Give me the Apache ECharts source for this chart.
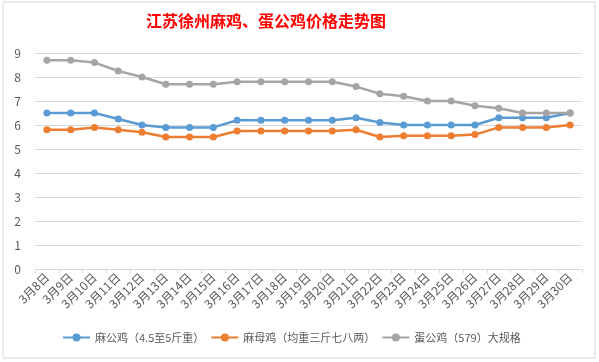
<!DOCTYPE html>
<html><head><meta charset="utf-8">
<script src="https://cdn.jsdelivr.net/npm/echarts@6/dist/echarts.min.js"></script>
<style>html,body{margin:0;padding:0;background:#fff}#c{width:599px;height:362px}</style>
</head><body><div id="c"></div>
<script>
const categories = ["3月8日","3月9日","3月10日","3月11日","3月12日","3月13日","3月14日","3月15日","3月16日","3月17日","3月18日","3月19日","3月20日","3月21日","3月22日","3月23日","3月24日","3月25日","3月26日","3月27日","3月28日","3月29日","3月30日"];
const seriesNames = ["麻公鸡（4.5至5斤重）","麻母鸡（均重三斤七八两）","蛋公鸡（579）大规格"];
const maGongJi = [6.5,6.5,6.5,6.25,6.0,5.9,5.9,5.9,6.2,6.2,6.2,6.2,6.2,6.3,6.1,6.0,6.0,6.0,6.0,6.3,6.3,6.3,6.5];
const maMuJi = [5.8,5.8,5.9,5.8,5.7,5.5,5.5,5.5,5.75,5.75,5.75,5.75,5.75,5.8,5.5,5.55,5.55,5.55,5.6,5.9,5.9,5.9,6.0];
const danGongJi = [8.7,8.7,8.6,8.25,8.0,7.7,7.7,7.7,7.8,7.8,7.8,7.8,7.8,7.6,7.3,7.2,7.0,7.0,6.8,6.7,6.5,6.5,6.5];
const yTicks = [0,1,2,3,4,5,6,7,8,9];
const title = "江苏徐州麻鸡、蛋公鸡价格走势图";

const colors = ["#5B9BD5","#ED7D31","#A5A5A5"];
const font = "'Noto Sans CJK SC', sans-serif";
const chart = echarts.init(document.getElementById('c'));
const mk = (name, data, i) => ({
  name, type:'line', data, symbol:'circle', symbolSize:7,
  lineStyle:{width:2.5,color:colors[i]}, itemStyle:{color:colors[i]}, z: 3+i
});
chart.setOption({
  animation:false,
  graphic:[{type:'rect',shape:{x:3,y:2,width:592,height:356},style:{fill:'none',stroke:'#D9D9D9',lineWidth:1},silent:true}],
  title:{text:title,left:261,textAlign:'center',top:8,textStyle:{color:'#FF0000',fontSize:16,fontWeight:'bold',fontFamily:font}},
  legend:{bottom:14,left:57,itemGap:6,itemWidth:27,itemHeight:10,
    textStyle:{color:'#595959',fontSize:11,fontFamily:font},
    data:seriesNames},
  grid:{left:35,right:17,top:53,bottom:93},
  xAxis:{type:'category',data:categories,boundaryGap:true,
    axisLine:{lineStyle:{color:'#D9D9D9',width:1}},
    axisTick:{show:true,length:4,lineStyle:{color:'#D9D9D9'}},
    axisLabel:{rotate:45,color:'#595959',fontSize:12,fontFamily:font,margin:6,interval:0}},
  yAxis:{type:'value',min:yTicks[0],max:yTicks[yTicks.length-1],interval:1,
    axisLine:{show:false},axisTick:{show:false},
    axisLabel:{color:'#595959',fontSize:12,fontFamily:font,margin:14},
    splitLine:{lineStyle:{color:'#D9D9D9',width:1}}},
  series:[mk(seriesNames[0],maGongJi,0),mk(seriesNames[1],maMuJi,1),mk(seriesNames[2],danGongJi,2)]
});
</script></body></html>
